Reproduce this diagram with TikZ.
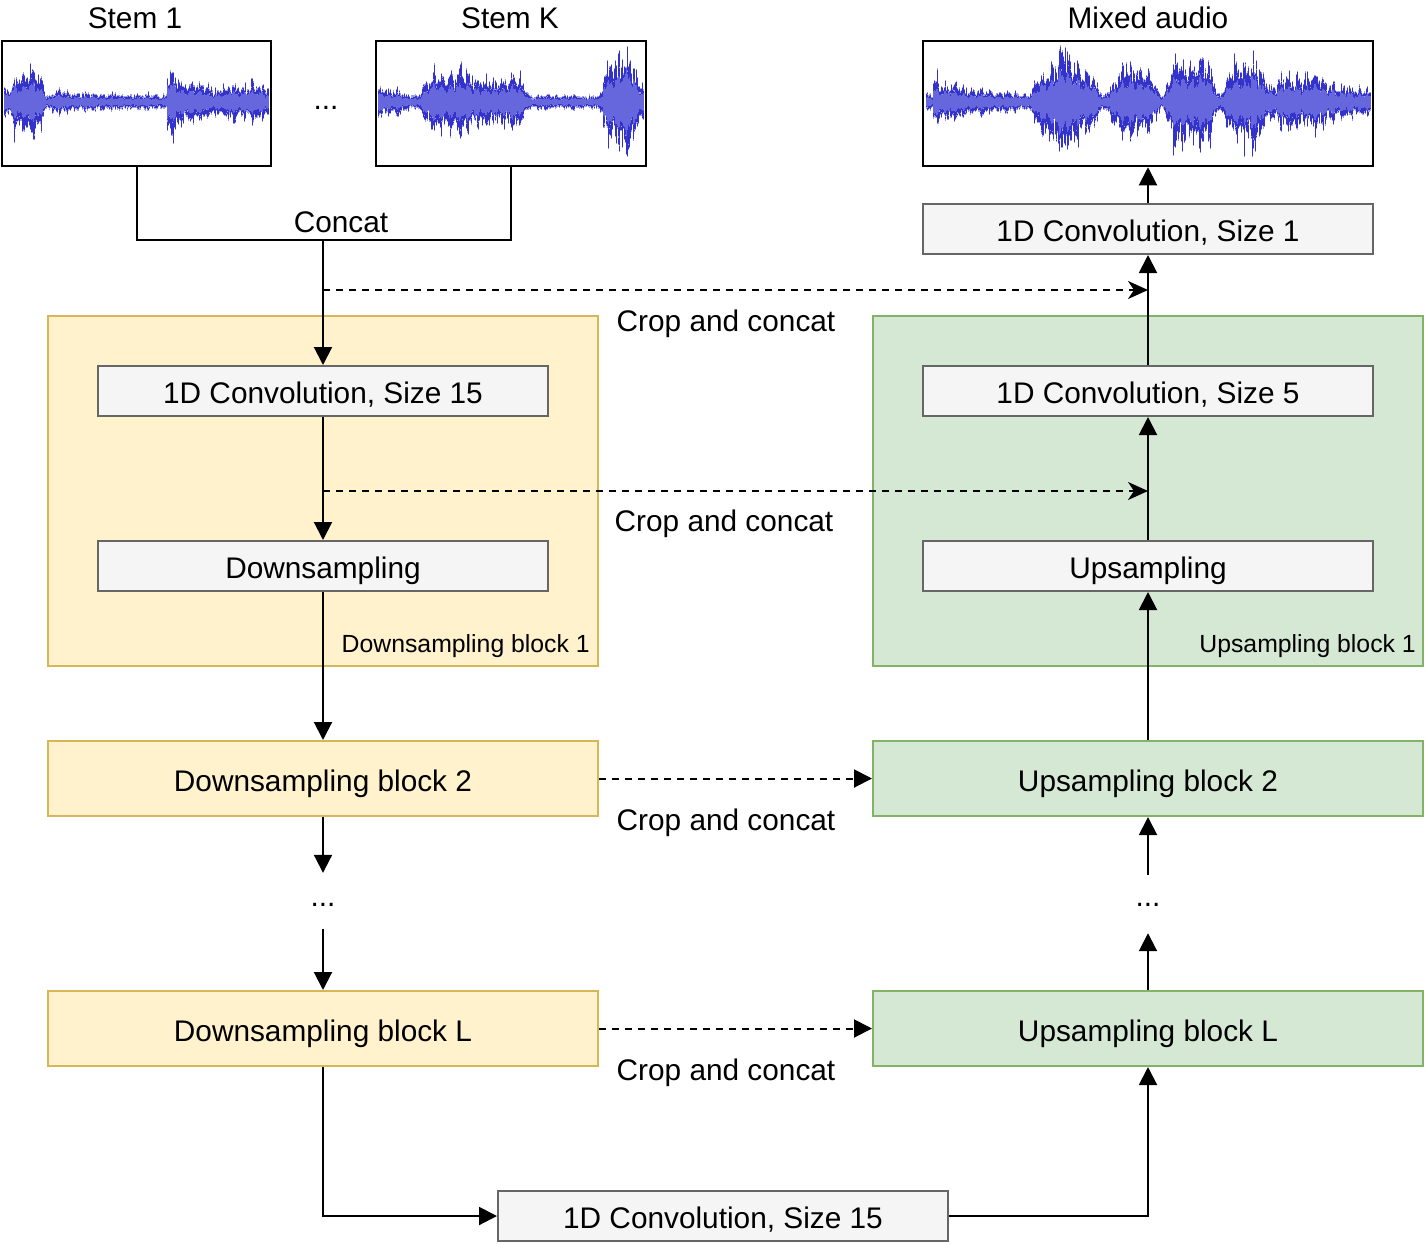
\documentclass[tikz,border=0pt]{standalone}
\usepackage{fontspec}
\setmainfont{Liberation Sans}
\usetikzlibrary{arrows.meta}
\definecolor{yfill}{HTML}{FFF2CC}
\definecolor{ydraw}{HTML}{D6B656}
\definecolor{gfill}{HTML}{D5E8D4}
\definecolor{gdraw}{HTML}{82B366}
\definecolor{cfill}{HTML}{F5F5F5}
\definecolor{cdraw}{HTML}{666666}
\definecolor{wdarkc}{HTML}{3333CC}
\definecolor{wlightc}{HTML}{6666DD}
\definecolor{wpalec}{HTML}{A0A0EA}
\newcommand\mywave[4]{%
  \foreach \i in {0,...,#2}{%
    \pgfmathsetmacro\uu{\i*0.6}%
    \pgfmathsetmacro\MM{1+0.2*sin(mod(\uu,8.8)*40.9)+0.12*sin(mod(\uu,3.7)*97.3+30)+0.12*sin(mod(\uu,27.7)*13+70)}%
    \pgfmathsetmacro\AA{(#4)*\MM}%
    \pgfmathsetmacro\ta{min(56,\AA*(0.5+0.5*rnd)+\AA*0.4*(rnd>0.93)*rnd)}%
    \pgfmathsetmacro\tb{min(56,\AA*(0.5+0.5*rnd)+\AA*0.4*(rnd>0.93)*rnd)}%
    \pgfmathsetmacro\tc{\AA*(0.45+0.1*rnd)}%
    \draw[wpale] (#1+\uu,#3-\ta-1.2) -- (#1+\uu,#3+\tb+1.2);
    \draw[wdark] (#1+\uu,#3-\ta) -- (#1+\uu,#3+\tb);
    \draw[wlight] (#1+\uu,#3-\tc) -- (#1+\uu,#3+\tc);
  }%
}
\begin{document}
\begin{tikzpicture}[x=1pt,y=-1pt,
  declare function={bp(\qa,\qb,\qc)=max(0,1-((\qa-\qb)/\qc)^2);
                    fb(\qa,\qb,\qc)=max(0,1-((\qa-\qb)/\qc)^4);
                    dk(\qa,\qb,\qc)=(\qa>=\qb)*exp(0-max(0,min((\qa-\qb)/\qc,9)));},
  big/.style={font=\fontsize{29.8}{35}\selectfont},
  small/.style={font=\fontsize{24.8}{29}\selectfont},
  wdark/.style={draw=wdarkc,line width=0.7pt},
  wlight/.style={draw=wlightc,line width=0.7pt},
  wpale/.style={draw=wpalec,line width=0.7pt},
  imgbox/.style={draw=black,line width=2.5pt,inner sep=0pt},
  cbox/.style={draw=cdraw,fill=cfill,line width=2pt,minimum width=450pt,minimum height=50pt,inner sep=0pt,big,text height=25pt,text depth=0pt},
  ybox/.style={draw=ydraw,fill=yfill,line width=2pt,minimum width=550pt,inner sep=0pt,big,text height=25pt,text depth=0pt},
  gbox/.style={draw=gdraw,fill=gfill,line width=2pt,minimum width=550pt,inner sep=0pt,big,text height=25pt,text depth=0pt},
  txt/.style={inner sep=0pt,big,text height=21.5pt,text depth=0pt},
  stxt/.style={inner sep=0pt,small,text height=17.8pt,text depth=0pt,anchor=east},
  arr/.style={-{Triangle[length=18pt,width=18pt]},line width=2pt},
  darr/.style={-{Triangle[length=18pt,width=18pt]},line width=2pt,dash pattern=on 7pt off 6pt},
  sarr/.style={-{Stealth[length=20pt,width=18pt,inset=6pt]},line width=2pt,dash pattern=on 7pt off 6pt},
  pl/.style={line width=2pt}]
\useasboundingbox (0,0) rectangle (1425,1243);
\pgfmathsetseed{11}
% waveforms
\mywave{4}{441}{102}{6+6*bp(\uu,0,15)+5*dk(\uu,48,40)+24*bp(\uu,18,13)+20*bp(\uu,33,10)+22*dk(\uu,163,30)+3*(\uu>163)+6*(\uu>224)}
\mywave{378}{443}{102}{6+7*bp(\uu,4,10)+7*bp(\uu,18,9)+22*fb(\uu,78,38)+20*bp(\uu,130,22)+30*bp(\uu,243,20)+12*(\uu>225)}
\mywave{926}{740}{102}{7+16*dk(\uu,7,35)+36*bp(\uu,140,36)+8*bp(\uu,134,8)+26*bp(\uu,207,28)+10*bp(\uu,207,4)+33*fb(\uu,265,27)+30*bp(\uu,320,26)+8*bp(\uu,327,8)+18*fb(\uu,376,36)+8*bp(\uu,425,25)}
% image boxes
\node[imgbox,minimum width=269pt,minimum height=125pt] (stem1) at (136.5,103.5) {};
\node[imgbox,minimum width=270pt,minimum height=125pt] (stemK) at (511,103.5) {};
\node[imgbox,minimum width=450pt,minimum height=125pt] (mix) at (1148,103.5) {};
\node[txt] (l1) at (135,18) {Stem 1};
\node[txt] (lK) at (510,18) {Stem K};
\node[txt] (lM) at (1148,18) {Mixed audio};
\node[txt] (sdots) at (326,98.5) {...};
% blocks
\node[ybox,minimum height=350pt] (db1) at (323,491) {};
\node[gbox,minimum height=350pt] (ub1) at (1148,491) {};
\node[cbox] (conv15) at (323,391) {1D Convolution, Size 15};
\node[cbox] (down) at (323,566) {Downsampling};
\node[cbox] (conv5) at (1148,391) {1D Convolution, Size 5};
\node[cbox] (up) at (1148,566) {Upsampling};
\node[cbox] (conv1) at (1148,229) {1D Convolution, Size 1};
\node[stxt] (db1l) at (590,644) {Downsampling block 1};
\node[stxt] (ub1l) at (1416,644) {Upsampling block 1};
\node[ybox,minimum height=75pt] (ds2) at (323,778.5) {Downsampling block 2};
\node[ybox,minimum height=75pt] (dsL) at (323,1028.5) {Downsampling block L};
\node[gbox,minimum height=75pt] (us2) at (1148,778.5) {Upsampling block 2};
\node[gbox,minimum height=75pt] (usL) at (1148,1028.5) {Upsampling block L};
\node[cbox] (bot) at (723,1216) {1D Convolution, Size 15};
\node[inner sep=0pt,big,text height=10pt,text depth=0pt,minimum height=56pt] (ddots) at (323,901) {...};
\node[inner sep=0pt,big,text height=4pt,text depth=0pt,minimum height=58pt] (udots) at (1148,904) {...};
% concat
\coordinate (cj) at (323,240);
\draw[pl] (stem1.south) |- (cj) -| (stemK.south);
\node[txt] (lc) at (341,222) {Concat};
\draw[arr] (cj) -- (conv15.north);
% skip connections
\coordinate (sk1) at (323,290);
\coordinate (sk2) at (323,491);
\draw[sarr] (sk1) -- (sk1 -| conv1.south);
\draw[sarr] (sk2) -- (sk2 -| up.north);
\node[txt] (c1) at (726,321) {Crop and concat};
\node[txt] (c2) at (724,521) {Crop and concat};
\draw[darr] (ds2.east) -- (us2.west);
\draw[darr] (dsL.east) -- (usL.west);
\node[txt] (c3) at (726,820) {Crop and concat};
\node[txt] (c4) at (726,1070) {Crop and concat};
% down path
\draw[arr] (conv15.south) -- (down.north);
\draw[arr] (down.south) -- (ds2.north);
\draw[arr] (ds2.south) -- (ddots.north);
\draw[arr] (ddots.south) -- (dsL.north);
\draw[arr] (dsL.south) |- (bot.west);
\draw[arr] (bot.east) -| (usL.south);
% up path
\draw[arr] (usL.north) -- (udots.south);
\draw[arr] (udots.north) -- (us2.south);
\draw[arr] (us2.north) -- (up.south);
\draw[arr] (up.north) -- (conv5.south);
\draw[arr] (conv5.north) -- (conv1.south);
\draw[arr] (conv1.north) -- (mix.south);
\end{tikzpicture}
\end{document}
